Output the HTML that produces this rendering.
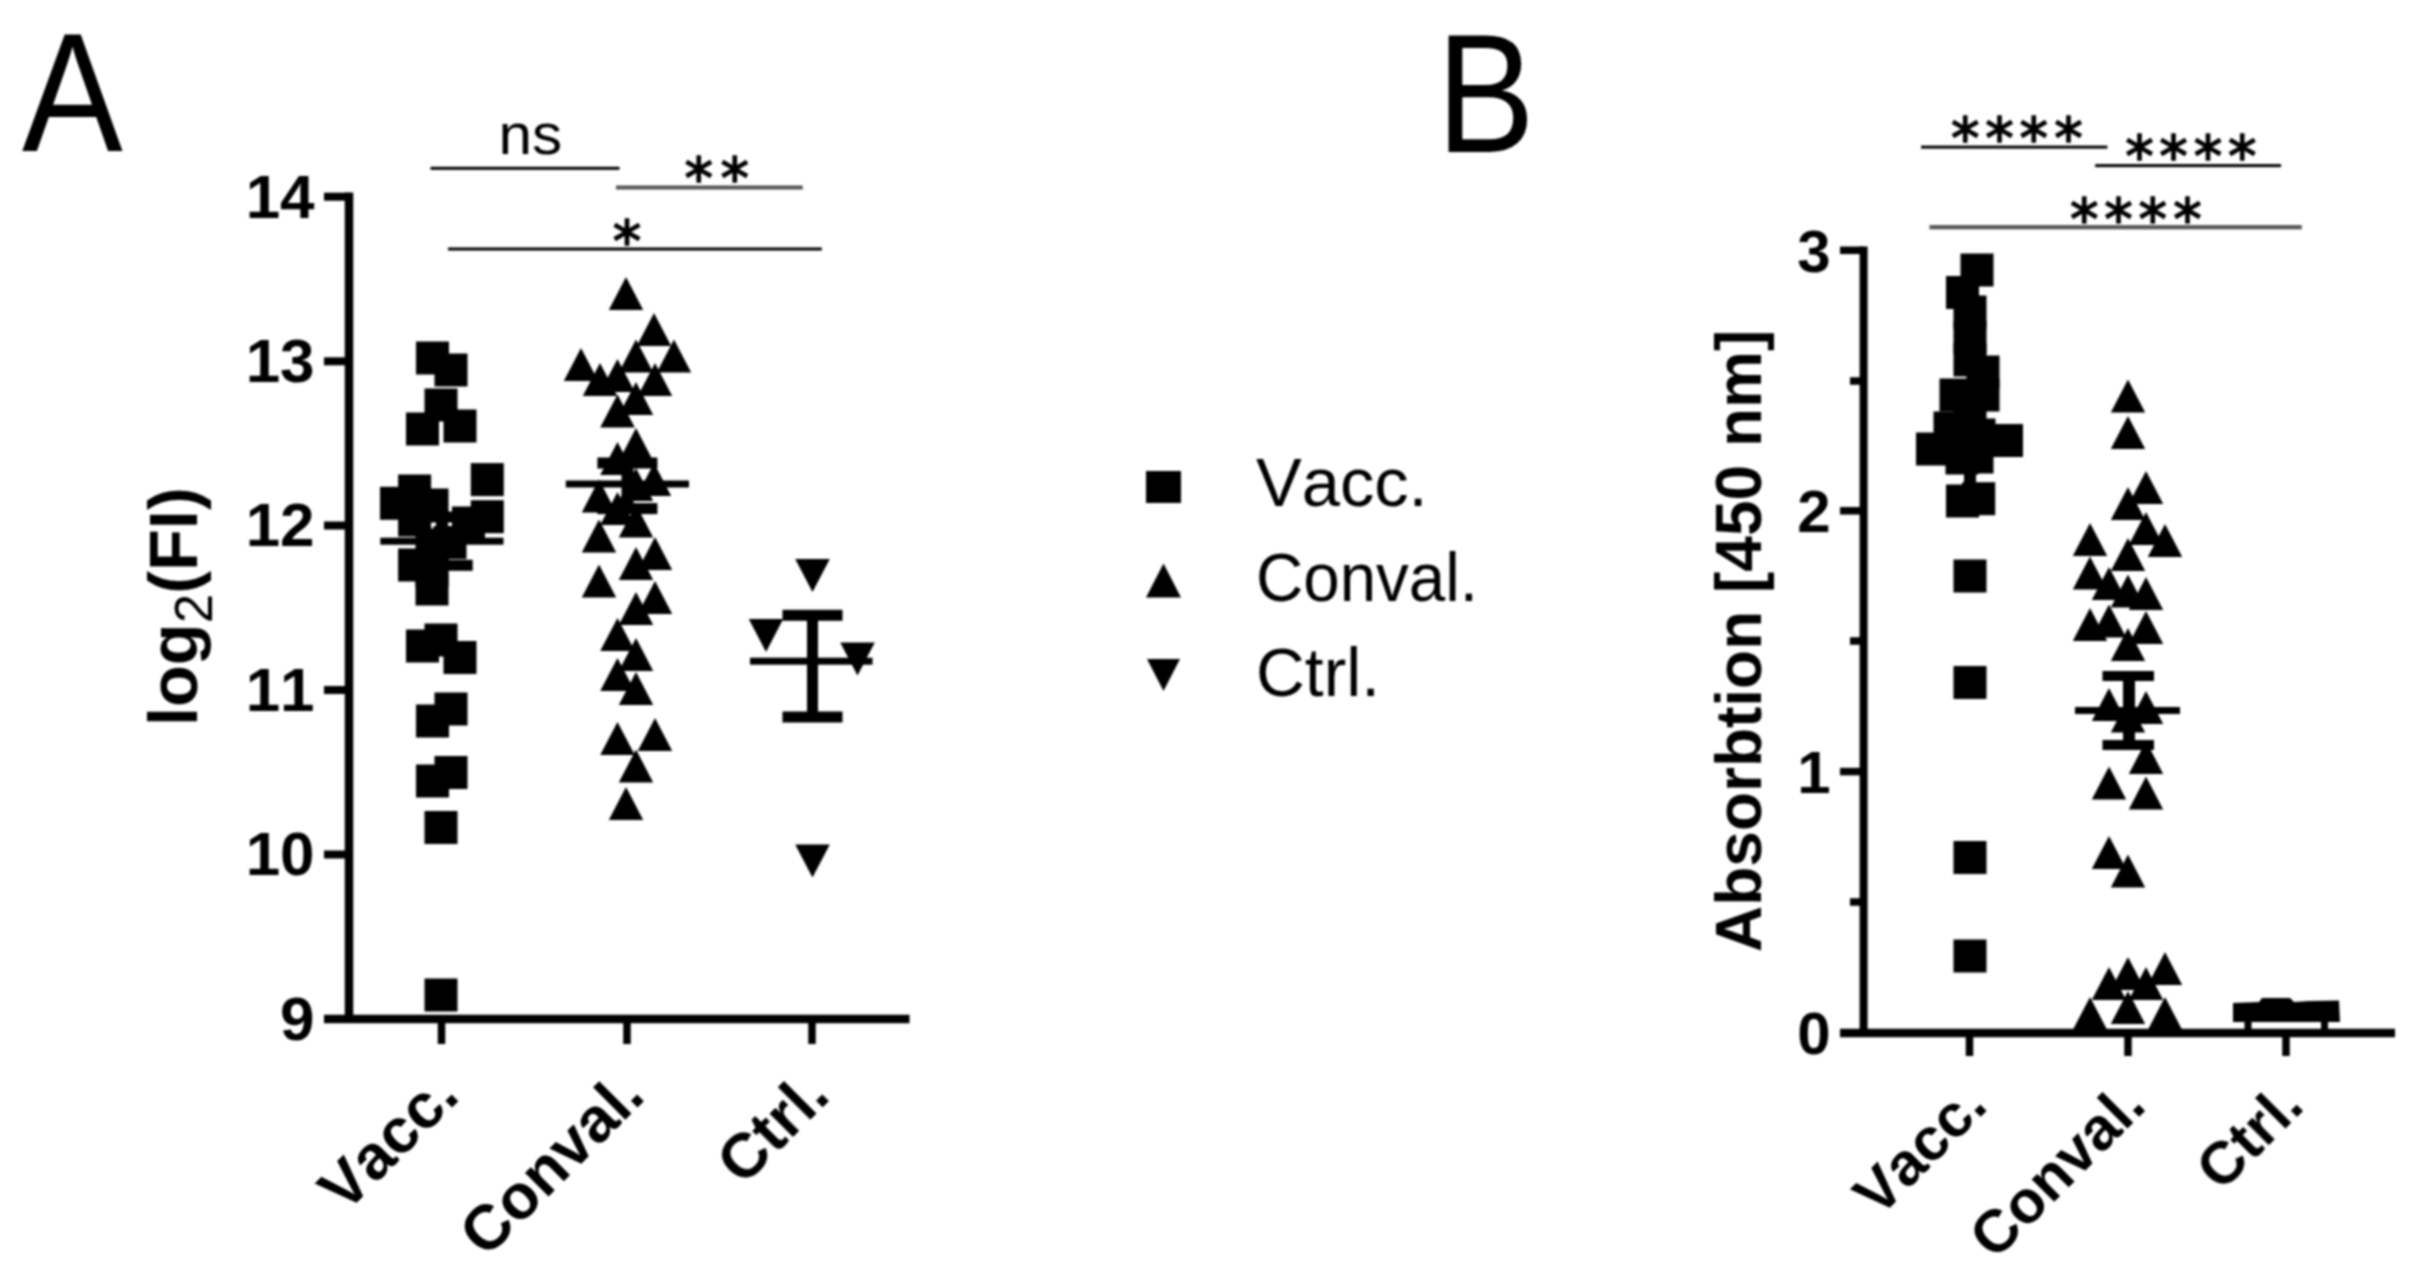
<!DOCTYPE html>
<html lang="en"><head><meta charset="utf-8"><title>Figure</title>
<style>html,body{margin:0;padding:0;background:#fff;}body{width:2420px;height:1266px;overflow:hidden;}svg{display:block;font-family:"Liberation Sans", sans-serif;fill:#000;font-kerning:none;}</style>
</head><body>
<svg width="2420" height="1266" viewBox="0 0 2420 1266">
<defs><filter id="soft" x="0" y="0" width="2420" height="1266" filterUnits="userSpaceOnUse"><feGaussianBlur stdDeviation="0.8"/></filter></defs>
<rect x="0" y="0" width="2420" height="1266" fill="#fff"/>
<g filter="url(#soft)">
<g id="panel-letters">
<text transform="translate(22,151) scale(0.894,1)" font-size="169">A</text>
<text transform="translate(1436.5,151.5) scale(0.873,1)" font-size="169">B</text>
</g>
<g id="plotA">
<rect x="344.75" y="192.5" width="8.5" height="830.5" fill="#000"/>
<rect x="324.0" y="1014.75" width="585.5" height="8.5" fill="#000"/>
<rect x="324.0" y="192.70" width="25.0" height="8" fill="#000"/>
<rect x="324.0" y="357.30" width="25.0" height="8" fill="#000"/>
<rect x="324.0" y="521.50" width="25.0" height="8" fill="#000"/>
<rect x="324.0" y="686.00" width="25.0" height="8" fill="#000"/>
<rect x="324.0" y="850.50" width="25.0" height="8" fill="#000"/>
<text x="314.6" y="217.5" font-size="62" font-weight="bold" text-anchor="end" >14</text>
<text x="314.6" y="382.1" font-size="62" font-weight="bold" text-anchor="end" >13</text>
<text x="314.6" y="546.3" font-size="62" font-weight="bold" text-anchor="end" >12</text>
<text x="314.6" y="710.8" font-size="62" font-weight="bold" text-anchor="end" >11</text>
<text x="314.6" y="875.3" font-size="62" font-weight="bold" text-anchor="end" >10</text>
<text x="314.6" y="1039.8" font-size="62" font-weight="bold" text-anchor="end" >9</text>
<rect x="437.75" y="1020.0" width="7.5" height="24.0" fill="#000"/>
<rect x="623.25" y="1020.0" width="7.5" height="24.0" fill="#000"/>
<rect x="808.25" y="1020.0" width="7.5" height="24.0" fill="#000"/>
<text transform="translate(461.5,1098) rotate(-45)" font-size="63" font-weight="bold" text-anchor="end">Vacc.</text>
<text transform="translate(647,1098) rotate(-45)" font-size="63" font-weight="bold" text-anchor="end">Conval.</text>
<text transform="translate(832,1098) rotate(-45)" font-size="63" font-weight="bold" text-anchor="end">Ctrl.</text>
<text transform="translate(197,726) rotate(-90)" font-size="68.5" font-weight="bold">log<tspan font-size="53" font-weight="normal" dy="15">2</tspan><tspan dy="-15">(FI)</tspan></text>
<rect x="430.5" y="166.80" width="189.0" height="3" fill="#000"/>
<rect x="616.0" y="185.50" width="186.7" height="4" fill="#555"/>
<rect x="448.0" y="247.50" width="373.8" height="3" fill="#000"/>
<text transform="translate(498.5,153.7) scale(1.04,1)" font-size="58">ns</text>
</g>
<g id="dataA">
<rect x="416.0" y="341.5" width="33" height="33"/>
<rect x="434.5" y="353.5" width="33" height="33"/>
<rect x="424.5" y="388.5" width="33" height="33"/>
<rect x="406.0" y="412.5" width="33" height="33"/>
<rect x="443.5" y="409.5" width="33" height="33"/>
<rect x="470.8" y="463.1" width="33" height="33"/>
<rect x="398.1" y="474.5" width="33" height="33"/>
<rect x="380.0" y="486.8" width="33" height="33"/>
<rect x="415.5" y="488.5" width="33" height="33"/>
<rect x="470.8" y="500.2" width="33" height="33"/>
<rect x="452.0" y="506.5" width="33" height="33"/>
<rect x="398.1" y="503.5" width="33" height="33"/>
<rect x="433.5" y="526.0" width="33" height="33"/>
<rect x="415.5" y="528.5" width="33" height="33"/>
<rect x="398.1" y="548.5" width="33" height="33"/>
<rect x="415.5" y="553.5" width="33" height="33"/>
<rect x="415.5" y="572.5" width="33" height="33"/>
<rect x="424.5" y="623.5" width="33" height="33"/>
<rect x="406.0" y="629.5" width="33" height="33"/>
<rect x="443.5" y="641.0" width="33" height="33"/>
<rect x="434.5" y="692.5" width="33" height="33"/>
<rect x="416.0" y="704.5" width="33" height="33"/>
<rect x="434.5" y="756.0" width="33" height="33"/>
<rect x="416.0" y="764.5" width="33" height="33"/>
<rect x="424.5" y="811.0" width="33" height="33"/>
<rect x="424.5" y="978.5" width="33" height="33"/>
<polygon points="608.8,310.0 643.2,310.0 626.0,277.0"/>
<polygon points="636.8,346.0 671.2,346.0 654.0,313.0"/>
<polygon points="563.8,381.0 598.2,381.0 581.0,348.0"/>
<polygon points="618.8,372.5 653.2,372.5 636.0,339.5"/>
<polygon points="656.8,372.5 691.2,372.5 674.0,339.5"/>
<polygon points="582.8,396.0 617.2,396.0 600.0,363.0"/>
<polygon points="600.2,392.0 634.8,392.0 617.5,359.0"/>
<polygon points="637.8,396.0 672.2,396.0 655.0,363.0"/>
<polygon points="618.8,415.0 653.2,415.0 636.0,382.0"/>
<polygon points="600.2,427.5 634.8,427.5 617.5,394.5"/>
<polygon points="618.8,461.0 653.2,461.0 636.0,428.0"/>
<polygon points="600.2,475.0 634.8,475.0 617.5,442.0"/>
<polygon points="618.8,501.0 653.2,501.0 636.0,468.0"/>
<polygon points="636.8,496.0 671.2,496.0 654.0,463.0"/>
<polygon points="581.8,512.5 616.2,512.5 599.0,479.5"/>
<polygon points="600.2,525.0 634.8,525.0 617.5,492.0"/>
<polygon points="618.8,537.5 653.2,537.5 636.0,504.5"/>
<polygon points="581.8,552.5 616.2,552.5 599.0,519.5"/>
<polygon points="637.8,570.0 672.2,570.0 655.0,537.0"/>
<polygon points="618.8,580.0 653.2,580.0 636.0,547.0"/>
<polygon points="581.8,597.5 616.2,597.5 599.0,564.5"/>
<polygon points="637.8,614.0 672.2,614.0 655.0,581.0"/>
<polygon points="618.8,625.0 653.2,625.0 636.0,592.0"/>
<polygon points="600.2,651.0 634.8,651.0 617.5,618.0"/>
<polygon points="618.8,671.0 653.2,671.0 636.0,638.0"/>
<polygon points="600.2,691.0 634.8,691.0 617.5,658.0"/>
<polygon points="618.8,705.0 653.2,705.0 636.0,672.0"/>
<polygon points="600.2,755.0 634.8,755.0 617.5,722.0"/>
<polygon points="637.8,751.0 672.2,751.0 655.0,718.0"/>
<polygon points="618.8,782.5 653.2,782.5 636.0,749.5"/>
<polygon points="608.8,820.0 643.2,820.0 626.0,787.0"/>
<polygon points="795.2,559.0 829.8,559.0 812.5,592.0"/>
<polygon points="748.8,619.0 783.2,619.0 766.0,652.0"/>
<polygon points="840.2,642.5 874.8,642.5 857.5,675.5"/>
<polygon points="795.2,844.5 829.8,844.5 812.5,877.5"/>
<rect x="380.3" y="537.70" width="123.2" height="7" fill="#000"/>
<rect x="411.0" y="559.80" width="61.7" height="11" fill="#000"/>
<rect x="411.0" y="511.50" width="61.7" height="11" fill="#000"/>
<rect x="436.00" y="517.0" width="12" height="48.0" fill="#000"/>
<rect x="565.8" y="480.50" width="123.2" height="7" fill="#000"/>
<rect x="597.4" y="457.50" width="60.0" height="11" fill="#000"/>
<rect x="597.4" y="503.10" width="60.0" height="11" fill="#000"/>
<rect x="621.50" y="463.0" width="12" height="45.0" fill="#000"/>
<rect x="750.0" y="657.70" width="122.5" height="7" fill="#000"/>
<rect x="782.5" y="609.80" width="60.0" height="11" fill="#000"/>
<rect x="782.5" y="711.50" width="60.0" height="11" fill="#000"/>
<rect x="807.00" y="615.5" width="11" height="101.5" fill="#000"/>
</g>
<g id="legend">
<rect x="1146" y="471" width="35" height="32"/>
<polygon points="1146.0,597.5 1181.0,597.5 1163.5,563.5"/>
<polygon points="1147.0,659.0 1180.0,659.0 1163.5,691.0"/>
<text transform="translate(1256,506) scale(1.009,1)" font-size="68">Vacc.</text>
<text transform="translate(1256,601) scale(0.963,1)" font-size="68">Conval.</text>
<text transform="translate(1256,696) scale(0.995,1)" font-size="68">Ctrl.</text>
</g>
<g id="plotB">
<rect x="1859.60" y="246.5" width="8" height="790.5" fill="#000"/>
<rect x="1840.0" y="1028.75" width="555.0" height="8.5" fill="#000"/>
<rect x="1840.0" y="246.55" width="23.6" height="7.5" fill="#000"/>
<rect x="1840.0" y="507.05" width="23.6" height="7.5" fill="#000"/>
<rect x="1840.0" y="767.85" width="23.6" height="7.5" fill="#000"/>
<rect x="1850.0" y="377.25" width="13.6" height="7.5" fill="#000"/>
<rect x="1850.0" y="637.25" width="13.6" height="7.5" fill="#000"/>
<rect x="1850.0" y="898.25" width="13.6" height="7.5" fill="#000"/>
<text x="1830.5" y="271.5" font-size="60" font-weight="bold" text-anchor="end" >3</text>
<text x="1830.5" y="532" font-size="60" font-weight="bold" text-anchor="end" >2</text>
<text x="1830.5" y="792.5" font-size="60" font-weight="bold" text-anchor="end" >1</text>
<text x="1830.5" y="1054" font-size="60" font-weight="bold" text-anchor="end" >0</text>
<rect x="1965.75" y="1034.0" width="7.5" height="22.0" fill="#000"/>
<rect x="2124.25" y="1034.0" width="7.5" height="22.0" fill="#000"/>
<rect x="2282.25" y="1034.0" width="7.5" height="22.0" fill="#000"/>
<text transform="translate(1989.5,1108) rotate(-45)" font-size="60" font-weight="bold" text-anchor="end">Vacc.</text>
<text transform="translate(2148,1108) rotate(-45)" font-size="60" font-weight="bold" text-anchor="end">Conval.</text>
<text transform="translate(2306,1108) rotate(-45)" font-size="60" font-weight="bold" text-anchor="end">Ctrl.</text>
<text transform="translate(1761,952) rotate(-90)" font-size="64" font-weight="bold">Absorbtion [450 nm]</text>
<rect x="1921.0" y="145.60" width="186.4" height="3" fill="#000"/>
<rect x="2095.2" y="164.10" width="185.8" height="3" fill="#000"/>
<rect x="1929.5" y="225.10" width="372.3" height="4.2" fill="#555"/>
</g>
<g id="dataB">
<rect x="1960.5" y="253.5" width="33" height="33"/>
<rect x="1946.0" y="276.0" width="33" height="33"/>
<rect x="1953.5" y="295.5" width="33" height="33"/>
<rect x="1953.5" y="320.5" width="33" height="33"/>
<rect x="1953.5" y="343.5" width="33" height="33"/>
<rect x="1966.5" y="355.5" width="33" height="33"/>
<rect x="1966.5" y="378.5" width="33" height="33"/>
<rect x="1939.5" y="378.5" width="33" height="33"/>
<rect x="1953.5" y="403.5" width="33" height="33"/>
<rect x="1933.5" y="411.5" width="33" height="33"/>
<rect x="1962.5" y="418.5" width="33" height="33"/>
<rect x="1916.0" y="432.5" width="33" height="33"/>
<rect x="1990.0" y="424.0" width="33" height="33"/>
<rect x="1960.5" y="440.5" width="33" height="33"/>
<rect x="1945.5" y="441.5" width="33" height="33"/>
<rect x="1946.0" y="484.5" width="33" height="33"/>
<rect x="1962.2" y="482.2" width="33" height="33"/>
<rect x="1953.5" y="559.5" width="33" height="33"/>
<rect x="1953.5" y="666.0" width="33" height="33"/>
<rect x="1953.5" y="841.0" width="33" height="33"/>
<rect x="1953.5" y="939.5" width="33" height="33"/>
<polygon points="2110.8,412.5 2145.2,412.5 2128.0,379.5"/>
<polygon points="2110.8,449.0 2145.2,449.0 2128.0,416.0"/>
<polygon points="2128.8,504.0 2163.2,504.0 2146.0,471.0"/>
<polygon points="2110.8,520.0 2145.2,520.0 2128.0,487.0"/>
<polygon points="2128.8,545.0 2163.2,545.0 2146.0,512.0"/>
<polygon points="2147.8,557.0 2182.2,557.0 2165.0,524.0"/>
<polygon points="2072.8,556.0 2107.2,556.0 2090.0,523.0"/>
<polygon points="2110.8,571.0 2145.2,571.0 2128.0,538.0"/>
<polygon points="2072.8,589.5 2107.2,589.5 2090.0,556.5"/>
<polygon points="2091.8,600.0 2126.2,600.0 2109.0,567.0"/>
<polygon points="2110.8,607.5 2145.2,607.5 2128.0,574.5"/>
<polygon points="2128.8,610.0 2163.2,610.0 2146.0,577.0"/>
<polygon points="2072.8,641.0 2107.2,641.0 2090.0,608.0"/>
<polygon points="2091.8,637.5 2126.2,637.5 2109.0,604.5"/>
<polygon points="2128.8,644.0 2163.2,644.0 2146.0,611.0"/>
<polygon points="2110.8,661.0 2145.2,661.0 2128.0,628.0"/>
<polygon points="2091.8,721.0 2126.2,721.0 2109.0,688.0"/>
<polygon points="2128.8,724.0 2163.2,724.0 2146.0,691.0"/>
<polygon points="2110.8,732.5 2145.2,732.5 2128.0,699.5"/>
<polygon points="2128.8,774.0 2163.2,774.0 2146.0,741.0"/>
<polygon points="2091.8,799.5 2126.2,799.5 2109.0,766.5"/>
<polygon points="2128.8,809.5 2163.2,809.5 2146.0,776.5"/>
<polygon points="2091.8,869.0 2126.2,869.0 2109.0,836.0"/>
<polygon points="2110.8,887.5 2145.2,887.5 2128.0,854.5"/>
<polygon points="2147.8,985.0 2182.2,985.0 2165.0,952.0"/>
<polygon points="2110.8,990.0 2145.2,990.0 2128.0,957.0"/>
<polygon points="2091.8,1000.0 2126.2,1000.0 2109.0,967.0"/>
<polygon points="2128.8,1000.0 2163.2,1000.0 2146.0,967.0"/>
<polygon points="2072.8,1030.0 2107.2,1030.0 2090.0,997.0"/>
<polygon points="2110.8,1024.0 2145.2,1024.0 2128.0,991.0"/>
<polygon points="2147.8,1030.0 2182.2,1030.0 2165.0,997.0"/>
<rect x="1920.0" y="436.50" width="100.0" height="7" fill="#000"/>
<rect x="1964.00" y="400.0" width="12" height="85.0" fill="#000"/>
<rect x="2075.0" y="707.00" width="105.0" height="7" fill="#000"/>
<rect x="2102.5" y="671.00" width="51.5" height="10" fill="#000"/>
<rect x="2102.5" y="740.00" width="51.5" height="10" fill="#000"/>
<rect x="2123.00" y="676.0" width="12" height="69.0" fill="#000"/>
<rect x="2244.5" y="1018" width="7" height="13"/><rect x="2321" y="1018" width="7" height="13"/>
<polygon points="2233,1003 2259,1002 2262,998 2290,998 2294,1002 2309,1001 2339,1000.5 2340,1022 2233,1022"/>
</g>
<g id="stars" font-family='"DejaVu Sans", "Liberation Sans", sans-serif' font-size="57" stroke="#000" stroke-width="1.5">
<text x="684.5 720.5" y="197.6">**</text>
<text x="612.7" y="260.6">*</text>
<text x="1951.1 1985.3 2019.6 2054.3" y="158">****</text>
<text x="2125.2 2159.3 2193.7 2227.9" y="176.4">****</text>
<text x="2070 2104.3 2138.5 2173.2" y="238.9">****</text>
</g>
</g>
</svg></body></html>
